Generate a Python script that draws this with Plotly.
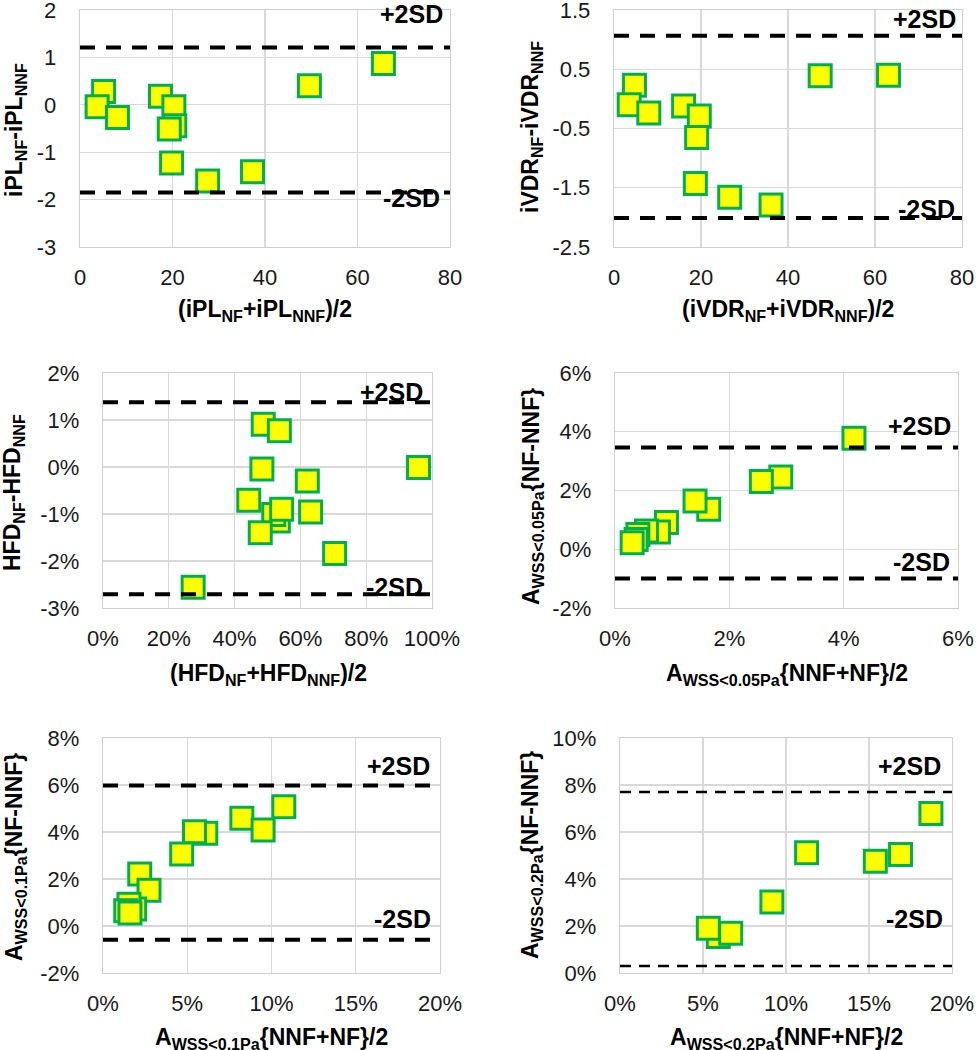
import plotly.graph_objects as go

W, H = 976, 1050

# ---------------- data ----------------
ipl_mean = [5.1, 3.7, 8.1, 17.4, 20.3, 20.5, 19.3, 19.8, 27.6, 37.3, 49.6, 65.6]
ipl_diff = [0.28, -0.04, -0.27, 0.18, -0.04, -0.44, -0.51, -1.23, -1.61, -1.41, 0.40, 0.87]
ipl_sd = [1.21, -1.85]

ivdr_mean = [4.7, 3.5, 8.0, 16.0, 19.6, 19.0, 18.7, 26.6, 36.1, 47.4, 63.1]
ivdr_diff = [0.23, -0.10, -0.24, -0.12, -0.29, -0.65, -1.43, -1.66, -1.79, 0.39, 0.40]
ivdr_sd = [1.065, -2.01]

hfd_mean = [48.7, 53.6, 48.3, 95.9, 62.1, 44.3, 53.3, 51.9, 54.3, 63.1, 47.8, 70.4, 27.4]
hfd_diff = [0.91, 0.77, -0.04, -0.01, -0.30, -0.71, -1.15, -1.01, -0.90, -0.96, -1.40, -1.84, -2.56]
hfd_sd = [1.38, -2.71]

a005_mean = [4.18, 2.90, 2.56, 1.64, 1.40, 0.90, 0.76, 0.55, 0.40, 0.37, 0.30]
a005_diff = [3.78, 2.46, 2.31, 1.36, 1.64, 0.91, 0.59, 0.62, 0.50, 0.33, 0.22]
a005_sd = [3.46, -1.00]

a01_mean = [10.73, 8.24, 9.50, 6.10, 5.43, 4.67, 2.18, 2.73, 1.88, 1.54, 1.35, 1.60]
a01_diff = [5.07, 4.58, 4.09, 3.95, 4.01, 3.06, 2.21, 1.52, 0.72, 0.93, 0.65, 0.55]
a01_sd = [5.98, -0.59]

a02_mean = [18.73, 11.24, 16.9, 15.38, 9.15, 5.92, 5.32, 6.67]
a02_diff = [6.79, 5.12, 5.04, 4.75, 3.02, 1.55, 1.90, 1.69]
a02_sd = [7.70, 0.30]

# tick labels
x_ticks_abs = [0, 20, 40, 60, 80]
x_ticklabels_abs = ["0", "20", "40", "60", "80"]
y_ticks_ipl = [-3, -2, -1, 0, 1, 2]
y_ticklabels_ipl = ["-3", "-2", "-1", "0", "1", "2"]
y_ticks_ivdr = [-2.5, -1.5, -0.5, 0.5, 1.5]
y_ticklabels_ivdr = ["-2.5", "-1.5", "-0.5", "0.5", "1.5"]
x_ticks_hfd = [0, 20, 40, 60, 80, 100]
x_ticklabels_hfd = ["0%", "20%", "40%", "60%", "80%", "100%"]
y_ticks_hfd = [-3, -2, -1, 0, 1, 2]
y_ticklabels_hfd = ["-3%", "-2%", "-1%", "0%", "1%", "2%"]
x_ticks_a005 = [0, 2, 4, 6]
x_ticklabels_a005 = ["0%", "2%", "4%", "6%"]
y_ticks_a005 = [-2, 0, 2, 4, 6]
y_ticklabels_a005 = ["-2%", "0%", "2%", "4%", "6%"]
x_ticks_a01 = [0, 5, 10, 15, 20]
x_ticklabels_a01 = ["0%", "5%", "10%", "15%", "20%"]
y_ticks_a01 = [-2, 0, 2, 4, 6, 8]
y_ticklabels_a01 = ["-2%", "0%", "2%", "4%", "6%", "8%"]
x_ticks_a02 = [0, 5, 10, 15, 20]
x_ticklabels_a02 = ["0%", "5%", "10%", "15%", "20%"]
y_ticks_a02 = [0, 2, 4, 6, 8, 10]
y_ticklabels_a02 = ["0%", "2%", "4%", "6%", "8%", "10%"]

sd_labels = ["+2SD", "-2SD"]

# ---------------- layout config ----------------
FONT = "Liberation Sans, Arial, sans-serif"
TICK = 22
TITLE = 23
SDF = 25
YELLOW = "#FFFF00"
GREEN = "#00B050"

panels = [
    dict(x=ipl_mean, y=ipl_diff, sd=ipl_sd, box=(80, 10, 450, 247),
         xr=[0, 80], yr=[-3, 2], xt=x_ticks_abs, xtl=x_ticklabels_abs,
         yt=y_ticks_ipl, ytl=y_ticklabels_ipl,
         xtitle="(iPL<sub>NF</sub>+iPL<sub>NNF</sub>)/2", xtpos=(265, 311),
         ytitle="iPL<sub>NF</sub>-iPL<sub>NNF</sub>", ytpos=(15, 130),
         lab=[(0.986, 0.983), (0.978, 0.207)], dw=4, dash="15px,11px"),
    dict(x=ivdr_mean, y=ivdr_diff, sd=ivdr_sd, box=(614, 10, 962, 247),
         xr=[0, 80], yr=[-2.5, 1.5], xt=x_ticks_abs, xtl=x_ticklabels_abs,
         yt=y_ticks_ivdr, ytl=y_ticklabels_ivdr,
         xtitle="(iVDR<sub>NF</sub>+iVDR<sub>NNF</sub>)/2", xtpos=(788, 311),
         ytitle="iVDR<sub>NF</sub>-iVDR<sub>NNF</sub>", ytpos=(532, 127),
         lab=[(0.989, 0.962), (0.986, 0.160)], dw=4, dash="15px,11px"),
    dict(x=hfd_mean, y=hfd_diff, sd=hfd_sd, box=(103, 373, 432, 608),
         xr=[0, 100], yr=[-3, 2], xt=x_ticks_hfd, xtl=x_ticklabels_hfd,
         yt=y_ticks_hfd, ytl=y_ticklabels_hfd,
         xtitle="(HFD<sub>NF</sub>+HFD<sub>NNF</sub>)/2", xtpos=(268, 674),
         ytitle="HFD<sub>NF</sub>-HFD<sub>NNF</sub>", ytpos=(14, 493),
         lab=[(0.979, 0.919), (0.979, 0.089)], dw=4, dash="15px,11px"),
    dict(x=a005_mean, y=a005_diff, sd=a005_sd, box=(615, 373, 958, 608),
         xr=[0, 6], yr=[-2, 6], xt=x_ticks_a005, xtl=x_ticklabels_a005,
         yt=y_ticks_a005, ytl=y_ticklabels_a005,
         xtitle="A<sub>WSS&lt;0.05Pa</sub>{NNF+NF}/2", xtpos=(787, 674),
         ytitle="A<sub>WSS&lt;0.05Pa</sub>{NF-NNF}", ytpos=(532, 497),
         lab=[(0.985, 0.774), (0.983, 0.196)], dw=4, dash="15px,11px"),
    dict(x=a01_mean, y=a01_diff, sd=a01_sd, box=(103, 738, 440, 973),
         xr=[0, 20], yr=[-2, 8], xt=x_ticks_a01, xtl=x_ticklabels_a01,
         yt=y_ticks_a01, ytl=y_ticklabels_a01,
         xtitle="A<sub>WSS&lt;0.1Pa</sub>{NNF+NF}/2", xtpos=(271, 1038),
         ytitle="A<sub>WSS&lt;0.1Pa</sub>{NF-NNF}", ytpos=(15, 857),
         lab=[(0.976, 0.881), (0.979, 0.230)], dw=4, dash="15px,11px"),
    dict(x=a02_mean, y=a02_diff, sd=a02_sd, box=(620, 738, 952, 973),
         xr=[0, 20], yr=[0, 10], xt=x_ticks_a02, xtl=x_ticklabels_a02,
         yt=y_ticks_a02, ytl=y_ticklabels_a02,
         xtitle="A<sub>WSS&lt;0.2Pa</sub>{NNF+NF}/2", xtpos=(786, 1038),
         ytitle="A<sub>WSS&lt;0.2Pa</sub>{NF-NNF}", ytpos=(531, 855),
         lab=[(0.973, 0.881), (0.979, 0.230)], dw=2.5, dash="11px,8px"),
]

fig = go.Figure()
shapes = []
annotations = []
layout_axes = {}

for i, p in enumerate(panels, start=1):
    sfx = "" if i == 1 else str(i)
    xa, ya = "x" + sfx, "y" + sfx
    x0, y0, x1, y1 = p["box"]
    fig.add_trace(go.Scatter(
        x=p["x"], y=p["y"], mode="markers", xaxis=xa, yaxis=ya,
        marker=dict(symbol="square", size=22, color=YELLOW,
                    line=dict(color=GREEN, width=3)),
        showlegend=False, cliponaxis=False))
    common = dict(showgrid=True, gridcolor="#d9d9d9", gridwidth=1.3,
                  showline=True, linecolor="#cfcfcf", linewidth=1.3, mirror=True,
                  zeroline=False, ticks="", fixedrange=True, automargin=False,
                  ticklabeloverflow="allow",
                  tickfont=dict(family=FONT, size=TICK, color="#1a1a1a"))
    layout_axes["xaxis" + sfx] = dict(
        common, domain=[x0 / W, x1 / W], anchor=ya, range=p["xr"],
        tickmode="array", tickvals=p["xt"], ticktext=p["xtl"], ticklabelstandoff=10)
    layout_axes["yaxis" + sfx] = dict(
        common, domain=[1 - y1 / H, 1 - y0 / H], anchor=xa, range=p["yr"],
        tickmode="array", tickvals=p["yt"], ticktext=p["ytl"], ticklabelstandoff=18)
    for v in p["sd"]:
        shapes.append(dict(type="line", xref=xa + " domain", yref=ya,
                           x0=0, x1=1, y0=v, y1=v, layer="above",
                           line=dict(color="black", width=p["dw"], dash=p["dash"])))
    for txt, (lx, ly) in zip(sd_labels, p["lab"]):
        annotations.append(dict(text="<b>%s</b>" % txt, xref=xa + " domain",
                                yref=ya + " domain", x=lx, y=ly, xanchor="right",
                                yanchor="middle", showarrow=False,
                                font=dict(family=FONT, size=SDF, color="black")))
    annotations.append(dict(text="<b>%s</b>" % p["xtitle"], xref="paper", yref="paper",
                            x=p["xtpos"][0] / W, y=1 - p["xtpos"][1] / H,
                            xanchor="center", yanchor="middle", showarrow=False,
                            font=dict(family=FONT, size=TITLE, color="black")))
    annotations.append(dict(text="<b>%s</b>" % p["ytitle"], xref="paper", yref="paper",
                            x=p["ytpos"][0] / W, y=1 - p["ytpos"][1] / H,
                            xanchor="center", yanchor="middle", textangle=-90,
                            showarrow=False,
                            font=dict(family=FONT, size=TITLE, color="black")))

fig.update_layout(
    width=W, height=H, margin=dict(l=0, r=0, t=0, b=0, autoexpand=False),
    paper_bgcolor="white", plot_bgcolor="white",
    shapes=shapes, annotations=annotations, **layout_axes)

fig.write_html(
    "out.html",
    config={"displayModeBar": False, "staticPlot": True},
    post_script="document.body.style.margin='0';document.body.style.overflow='hidden';",
)
